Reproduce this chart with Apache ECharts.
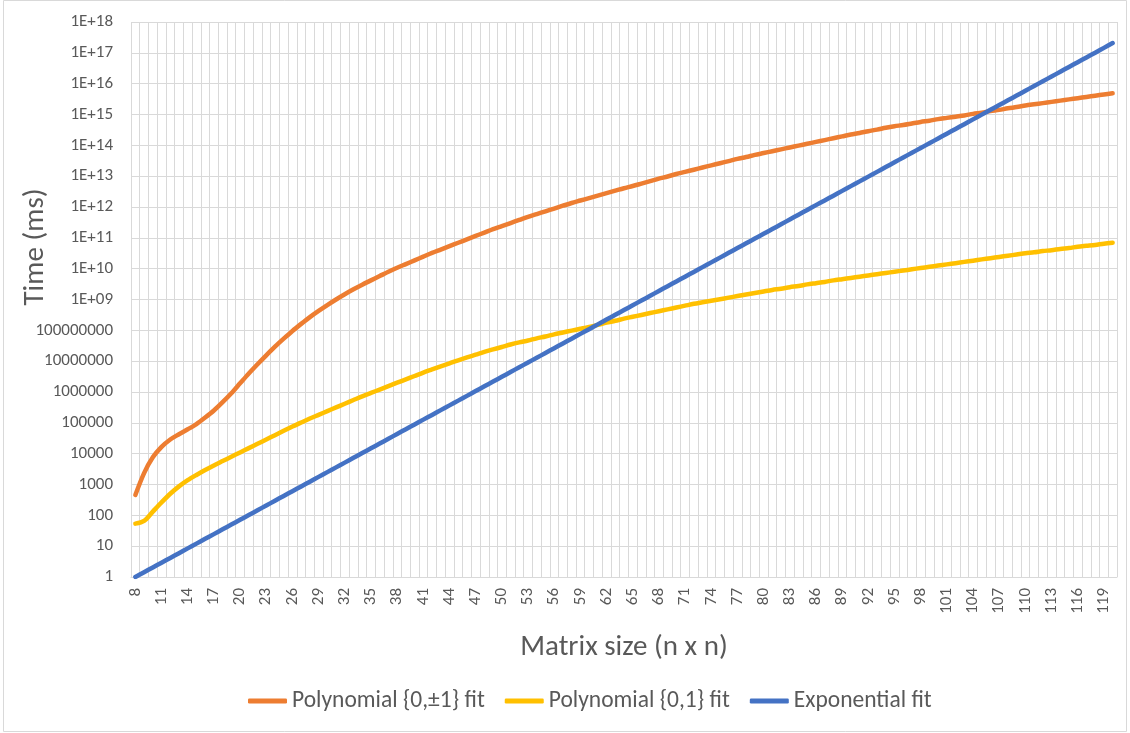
<!DOCTYPE html>
<html>
<head>
<meta charset="utf-8">
<script src="https://cdn.jsdelivr.net/npm/echarts@6/dist/echarts.min.js"></script>
<style>
html,body{margin:0;padding:0;background:#fff;}
#chart{width:1130px;height:733px;}
</style>
</head>
<body>
<div id="chart"></div>
<script>
// Matrix sizes (categories)
const categories = ['8','9','10','11','12','13','14','15','16','17','18','19','20','21','22','23','24','25','26','27','28','29','30','31','32','33','34','35','36','37','38','39','40','41','42','43','44','45','46','47','48','49','50','51','52','53','54','55','56','57','58','59','60','61','62','63','64','65','66','67','68','69','70','71','72','73','74','75','76','77','78','79','80','81','82','83','84','85','86','87','88','89','90','91','92','93','94','95','96','97','98','99','100','101','102','103','104','105','106','107','108','109','110','111','112','113','114','115','116','117','118','119','120'];

// Polynomial {0,±1} fit (ms)
const polyPm1 = [4.57e2,2.34e3,7.59e3,1.66e4,2.88e4,4.27e4,6.17e4,9.12e4,1.48e5,2.51e5,
4.68e5,9.12e5,1.91e6,3.98e6,7.94e6,1.55e7,2.95e7,5.37e7,9.55e7,1.62e8,
2.69e8,4.27e8,6.61e8,1.00e9,1.48e9,2.14e9,3.02e9,4.17e9,5.75e9,7.94e9,
1.07e10,1.41e10,1.86e10,2.46e10,3.24e10,4.17e10,5.37e10,6.92e10,8.91e10,1.15e11,
1.48e11,1.91e11,2.40e11,3.02e11,3.80e11,4.79e11,5.89e11,7.24e11,8.91e11,1.10e12,
1.35e12,1.62e12,1.95e12,2.34e12,2.82e12,3.39e12,4.07e12,4.79e12,5.75e12,6.92e12,
8.32e12,9.77e12,1.18e13,1.38e13,1.62e13,1.91e13,2.24e13,2.63e13,3.09e13,3.63e13,
4.17e13,4.90e13,5.62e13,6.46e13,7.41e13,8.51e13,9.77e13,1.12e14,1.29e14,1.48e14,
1.70e14,1.95e14,2.24e14,2.51e14,2.88e14,3.24e14,3.72e14,4.17e14,4.57e14,5.13e14,
5.75e14,6.31e14,7.08e14,7.76e14,8.51e14,9.33e14,1.05e15,1.15e15,1.29e15,1.41e15,
1.59e15,1.74e15,1.95e15,2.14e15,2.34e15,2.57e15,2.82e15,3.09e15,3.39e15,3.72e15,
4.07e15,4.47e15,4.90e15];

// Polynomial {0,1} fit (ms)
const poly01 = [53.7,66.1,132,263,501,871,1380,2042,2951,4169,
5754,7943,1.10e4,1.51e4,2.09e4,2.88e4,3.98e4,5.50e4,7.59e4,1.02e5,
1.38e5,1.82e5,2.40e5,3.16e5,4.17e5,5.50e5,7.24e5,9.33e5,1.20e6,1.55e6,
2.00e6,2.57e6,3.31e6,4.27e6,5.37e6,6.76e6,8.51e6,1.07e7,1.32e7,1.62e7,
2.00e7,2.40e7,2.88e7,3.47e7,4.07e7,4.68e7,5.50e7,6.31e7,7.41e7,8.51e7,
9.77e7,1.12e8,1.29e8,1.51e8,1.78e8,2.04e8,2.40e8,2.75e8,3.16e8,3.63e8,
4.17e8,4.79e8,5.50e8,6.31e8,7.24e8,8.13e8,9.12e8,1.02e9,1.15e9,1.29e9,
1.45e9,1.62e9,1.82e9,2.04e9,2.24e9,2.51e9,2.75e9,3.09e9,3.39e9,3.72e9,
4.17e9,4.57e9,5.01e9,5.50e9,6.03e9,6.61e9,7.24e9,7.94e9,8.71e9,9.55e9,
1.05e10,1.15e10,1.26e10,1.38e10,1.51e10,1.66e10,1.82e10,2.00e10,2.19e10,2.40e10,
2.63e10,2.88e10,3.16e10,3.39e10,3.72e10,3.98e10,4.37e10,4.68e10,5.13e10,5.50e10,
5.89e10,6.46e10,6.92e10];

// Exponential fit (ms)
const expFit = [1,1.43,2.04,2.91,4.15,5.93,8.47,12.1,17.3,24.6,
35.2,50.2,71.6,102,146,208,298,425,607,865,
1236,1766,2518,3597,5129,7328,1.05e4,1.49e4,2.13e4,3.04e4,
4.35e4,6.21e4,8.85e4,1.27e5,1.80e5,2.58e5,3.68e5,5.25e5,7.50e5,1.07e6,
1.53e6,2.18e6,3.11e6,4.45e6,6.34e6,9.06e6,1.29e7,1.85e7,2.64e7,3.76e7,
5.37e7,7.67e7,1.09e8,1.56e8,2.23e8,3.18e8,4.55e8,6.49e8,9.27e8,1.32e9,
1.89e9,2.70e9,3.85e9,5.50e9,7.83e9,1.12e10,1.60e10,2.28e10,3.26e10,4.65e10,
6.64e10,9.48e10,1.35e11,1.93e11,2.75e11,3.94e11,5.62e11,8.02e11,1.15e12,1.63e12,
2.33e12,3.33e12,4.75e12,6.79e12,9.68e12,1.38e13,1.98e13,2.82e13,4.03e13,5.74e13,
8.20e13,1.17e14,1.67e14,2.39e14,3.40e14,4.86e14,6.95e14,9.91e14,1.42e15,2.02e15,
2.88e15,4.12e15,5.88e15,8.40e15,1.20e16,1.71e16,2.44e16,3.48e16,4.98e16,7.10e16,
1.01e17,1.45e17,2.07e17];

// Y tick labels, one per decade from 1 to 1E+18
const yTickLabels = ['1','10','100','1000','10000','100000','1000000','10000000','100000000',
'1E+09','1E+10','1E+11','1E+12','1E+13','1E+14','1E+15','1E+16','1E+17','1E+18'];

const seriesNames = ['Polynomial {0,\u00B11} fit','Polynomial {0,1} fit','Exponential fit'];
const seriesColors = ['#ED7D31','#FFC000','#4472C4'];
const seriesData = [polyPm1, poly01, expFit];
const yTitle = 'Time (ms)';
const xTitle = 'Matrix size (n x n)';

const FONT = "Carlito, 'Noto Sans', 'Liberation Sans', sans-serif";
const TXT = '#595959';
const GRID = '#d9d9d9';

const chart = echarts.init(document.getElementById('chart'), null, {renderer:'canvas'});
chart.setOption({
  animation: false,
  backgroundColor: '#ffffff',
  textStyle: { fontFamily: FONT },
  graphic: [{
    type: 'rect', silent: true,
    shape: { x: 3.5, y: 0.5, width: 1123, height: 731 },
    style: { fill: 'none', stroke: GRID, lineWidth: 1 }
  }, {
    type: 'text', silent: true,
    x: 36, y: 247, rotation: Math.PI / 2,
    style: { text: yTitle, fill: TXT, font: "29px " + FONT, align: 'center', verticalAlign: 'middle' }
  }],
  grid: { left: 131, right: 13, top: 22, bottom: 156, containLabel: false, outerBoundsMode: 'none' },
  legend: {
    left: 243, top: 684,
    icon: 'roundRect',
    itemWidth: 39, itemHeight: 5, itemGap: 20,
    textStyle: { fontSize: 23.5, color: TXT, fontFamily: FONT },
    data: seriesNames
  },
  xAxis: {
    type: 'category',
    data: categories,
    boundaryGap: true,
    name: xTitle,
    nameLocation: 'middle',
    nameGap: 56,
    nameMoveOverlap: false,
    nameTextStyle: { fontSize: 29, color: TXT, fontFamily: FONT },
    axisLine: { show: true, lineStyle: { color: GRID, width: 1 } },
    axisTick: { show: false },
    axisLabel: { interval: 2, rotate: 90, fontSize: 17, color: TXT, margin: 11, fontFamily: FONT },
    splitLine: { show: true, interval: 0, lineStyle: { color: GRID, width: 1 } }
  },
  yAxis: {
    type: 'log',
    logBase: 10,
    min: 1,
    max: 1e18,
    interval: 1,
    splitNumber: 18,
    axisLine: { show: false },
    axisTick: { show: false },
    axisLabel: {
      fontSize: 17, color: TXT, margin: 18, fontFamily: FONT,
      formatter: function (v) {
        const e = Math.round(Math.log10(v));
        return yTickLabels[e] !== undefined ? yTickLabels[e] : '';
      }
    },
    splitLine: { show: true, lineStyle: { color: GRID, width: 1 } }
  },
  series: seriesData.map(function (d, i) {
    return {
      name: seriesNames[i],
      type: 'line',
      data: d,
      smooth: 0.3,
      symbol: 'none',
      showSymbol: false,
      color: seriesColors[i],
      lineStyle: { color: seriesColors[i], width: 4.5, cap: 'round', join: 'round' },
      z: 2
    };
  })
});
</script>
</body>
</html>
